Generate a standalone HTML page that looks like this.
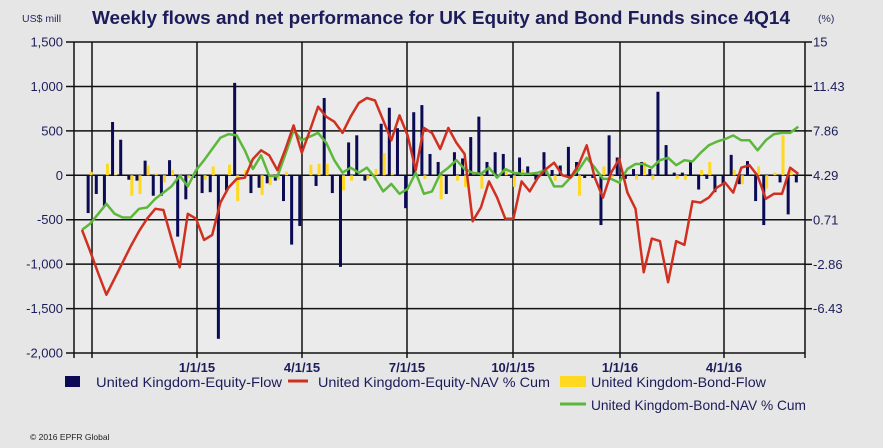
<!DOCTYPE html>
<html><head><meta charset="utf-8"><style>
html,body{margin:0;padding:0;background:#e6e6e6;}
svg{display:block;font-family:"Liberation Sans",sans-serif;}
</style></head><body>
<svg id="chart" width="883" height="448" viewBox="0 0 883 448" xmlns="http://www.w3.org/2000/svg">
<rect x="0" y="0" width="883" height="448" fill="#e6e6e6"/>
<rect x="74" y="42" width="731" height="311" fill="#ebebeb"/>
<text x="92" y="24" font-size="18.5" font-weight="bold" fill="#1c1c5a" textLength="698" lengthAdjust="spacingAndGlyphs">Weekly flows and net performance for UK Equity and Bond Funds since 4Q14</text>
<text x="22" y="22" font-size="10.5" fill="#2a2a60">US$ mill</text>
<text x="818" y="22" font-size="10.5" fill="#2a2a60">(%)</text>
<g id="grid"></g>
<g id="bars"></g>
<g id="lines"></g>
<g id="axes"></g>
<g font-size="14" fill="#1c1c5a">
 <rect x="65" y="376" width="15" height="11" fill="#0a0a55"/>
 <text x="96" y="387" textLength="186" lengthAdjust="spacingAndGlyphs">United Kingdom-Equity-Flow</text>
 <line x1="288" y1="381" x2="308" y2="381" stroke="#d03020" stroke-width="3"/>
 <text x="318" y="387" textLength="232" lengthAdjust="spacingAndGlyphs">United Kingdom-Equity-NAV % Cum</text>
 <rect x="560" y="376" width="26" height="11" fill="#ffd820"/>
 <text x="591" y="387" textLength="175" lengthAdjust="spacingAndGlyphs">United Kingdom-Bond-Flow</text>
 <line x1="560" y1="404" x2="586" y2="404" stroke="#5cb83a" stroke-width="3"/>
 <text x="591" y="410" textLength="215" lengthAdjust="spacingAndGlyphs">United Kingdom-Bond-NAV % Cum</text>
</g>
<text x="30" y="440" font-size="8.5" fill="#222">© 2016 EPFR Global</text>
</svg>
<script>
const equityFlow=[0,-425,-210,-350,600,400,-50,-60,165,-230,-230,170,-690,-270,-30,-200,-190,-1840,-170,1040,0,-200,-140,-90,-60,-290,-780,-570,0,-120,870,-200,-1030,370,450,-60,0,580,760,530,-370,710,790,240,150,-210,260,190,430,660,150,260,240,-30,200,100,-50,260,60,110,320,150,-30,-30,-560,450,200,-40,70,150,70,940,340,30,30,150,-160,-40,-190,-100,230,-100,160,-290,-560,0,-80,-440,-80];
const bondFlow=[0,40,0,130,10,0,-230,-210,110,20,-80,60,-20,-30,0,-50,100,0,120,-290,60,0,-220,-110,-50,40,0,0,120,130,130,0,-170,-60,0,-40,70,250,20,0,0,0,-40,0,-270,0,-60,-130,0,-150,0,0,80,-130,70,0,0,0,-60,0,0,-230,0,0,100,-20,0,0,-50,150,-50,0,0,-40,-50,0,60,150,0,0,60,-100,0,100,-150,30,450,50,0];
const equityNav=[-0.1,-1.8,-3.6,-5.3,-4.0,-2.7,-1.4,-0.2,0.8,1.6,1.5,-0.8,-3.1,1.2,0.8,-0.9,-0.5,2.1,3.3,4.0,4.1,5.6,6.3,5.9,4.7,6.4,8.3,6.1,7.9,9.8,9.0,8.6,7.7,9.0,10.1,10.5,10.3,8.7,7.1,9.1,7.5,4.7,8.1,7.7,6.4,8.1,6.9,6.0,0.6,1.7,3.8,2.5,0.8,0.8,3.8,3.0,4.1,4.8,5.3,4.3,4.1,5.1,6.7,4.1,2.5,4.5,5.6,2.9,1.6,-3.5,-0.8,-1.0,-4.3,-1.0,-1.3,2.2,2.1,2.5,3.3,3.7,2.9,4.9,5.1,4.25,2.4,2.8,2.8,4.9,4.4];
const bondNav=[-0.1,0.4,1.2,2.0,1.2,0.9,0.9,1.6,1.7,2.4,2.9,3.4,4.25,3.4,4.7,5.5,6.4,7.3,7.6,7.5,6.3,4.8,5.9,4.25,4.2,6.0,7.9,7.1,7.4,7.7,6.9,5.5,4.5,4.9,4.5,4.9,4.1,3.0,3.6,2.8,3.2,4.5,2.8,3.0,4.4,4.9,5.5,4.8,4.5,4.4,4.9,4.1,4.8,4.5,4.4,4.4,4.5,4.7,3.4,3.4,4.1,4.7,5.7,4.9,4.0,4.0,3.7,4.8,5.2,5.2,4.9,5.5,5.7,5.1,5.5,5.4,6.1,6.7,7.0,7.2,7.5,7.1,7.1,6.3,7.1,7.6,7.7,7.7,8.2];
const leftTicks=[1500,1000,500,0,-500,-1000,-1500,-2000];
const leftTickLabels=["1,500","1,000","500","0","-500","-1,000","-1,500","-2,000"];
const rightTickLabels=["15","11.43","7.86","4.29","0.71","-2.86","-6.43"];
const rightTicks=[15,11.43,7.86,4.29,0.71,-2.86,-6.43];
const dateLabels=["","1/1/15","4/1/15","7/1/15","10/1/15","1/1/16","4/1/16"];
const dateWeeks=[1.2,14.1,27.0,39.9,53.0,66.1,78.9];

const NS="http://www.w3.org/2000/svg";
const X0=82,STEP=8.14,ZERO=175.3,PX500=44.43;
function xs(i){return X0+i*STEP;}
function yL(v){return ZERO-v*PX500/500;}
function yR(p){return ZERO-(p-4.29)*PX500/3.57;}
function mk(tag,attrs,parent){const e=document.createElementNS(NS,tag);for(const k in attrs)e.setAttribute(k,attrs[k]);parent.appendChild(e);return e;}
const grid=document.getElementById('grid'),bars=document.getElementById('bars'),lines=document.getElementById('lines'),axes=document.getElementById('axes');

leftTicks.forEach((v,k)=>{
  const y=yL(v);
  const g=mk('line',{x1:66,y1:y,x2:805,y2:y,stroke:'#111','stroke-width':1.5},grid);
  
  
  const t=mk('text',{x:63,y:y+4.5,'text-anchor':'end','font-size':13,fill:'#1c1c5a'},axes);
  t.textContent=leftTickLabels[k];
  
  
});
rightTicks.forEach((p,k)=>{
  const y=yR(p);
  const tk=mk('line',{x1:805,y1:y,x2:812,y2:y,stroke:'#111','stroke-width':1.5},axes);
  
  
  const t=mk('text',{x:813,y:y+4.5,'font-size':13,fill:'#1c1c5a'},axes);
  t.textContent=rightTickLabels[k];
  
  
});
dateWeeks.forEach((w,k)=>{
  const x=Math.round(xs(w));
  const g=mk('line',{x1:x,y1:42,x2:x,y2:358,stroke:'#111','stroke-width':1.5},grid);
  
  
  if(dateLabels[k]){
    const t=mk('text',{x:x,y:372,'text-anchor':'middle','font-size':13,'font-weight':'bold',fill:'#1c1c5a'},axes);
    t.textContent=dateLabels[k];
    
    
  }
});
const la=mk('line',{x1:74,y1:42,x2:74,y2:358,stroke:'#111','stroke-width':1.5},axes);


const ra=mk('line',{x1:805,y1:42,x2:805,y2:358,stroke:'#111','stroke-width':1.5},axes);



equityFlow.forEach((v,i)=>{
  if(!v)return;
  const y0=yL(0),y1=yL(v);
  const r=mk('rect',{x:xs(i)-3.5,y:Math.min(y0,y1),width:3,height:Math.abs(y1-y0),fill:'#0a0a55'},bars);
  
  
});
bondFlow.forEach((v,i)=>{
  if(!v)return;
  const y0=yL(0),y1=yL(v);
  const r=mk('rect',{x:xs(i)-0.5,y:Math.min(y0,y1),width:3,height:Math.abs(y1-y0),fill:'#ffd820'},bars);
  
  
});
function path(arr){return arr.map((p,i)=>(i?'L':'M')+xs(i).toFixed(1)+' '+yR(p).toFixed(1)).join(' ');}
const gl=mk('path',{d:path(bondNav),fill:'none',stroke:'#5cb83a','stroke-width':2.5,'stroke-linejoin':'round'},lines);


const rl=mk('path',{d:path(equityNav),fill:'none',stroke:'#d03020','stroke-width':2.5,'stroke-linejoin':'round'},lines);


</script>
</body></html>
